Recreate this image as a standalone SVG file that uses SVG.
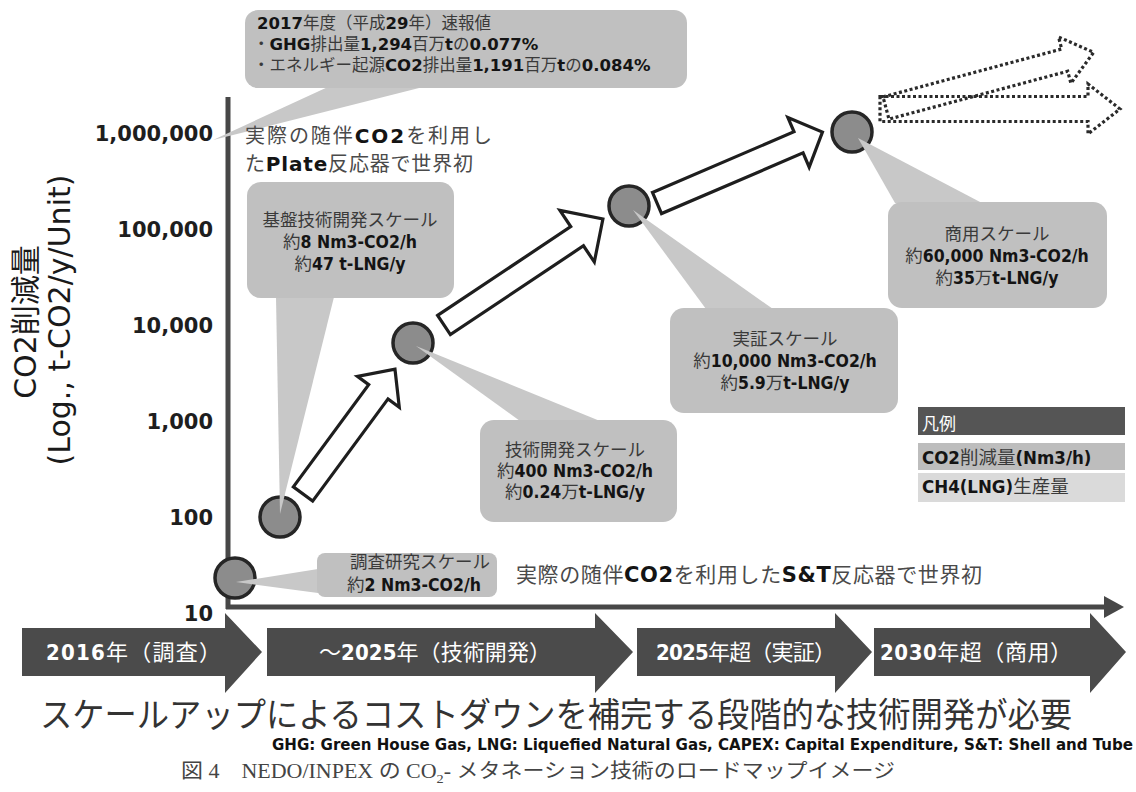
<svg xmlns="http://www.w3.org/2000/svg" width="1136" height="792" viewBox="0 0 1136 792">
<style>
.box{fill:#c0c0c0}
.ptr{fill:#c8c8c8}
.dot{fill:#8c8c8c;stroke:#262626;stroke-width:3.5}
.arr{fill:#fff;stroke:#1e1e1e;stroke-width:3.2;stroke-linejoin:miter}
.darr{fill:none;stroke:#2a2a2a;stroke-width:3.2;stroke-dasharray:3 2.5}
.jp{font-family:"Noto Sans CJK JP","Noto Sans",sans-serif;fill:#3a3a3a}
.b{font-family:"DejaVu Sans Condensed","DejaVu Sans",sans-serif;font-weight:bold;fill:#141414}
.bw{font-family:"DejaVu Sans",sans-serif;font-weight:bold;fill:#141414}
.nt{font-size:17.5px;text-anchor:middle}
.tick{font-family:"DejaVu Sans",sans-serif;font-weight:bold;font-size:21px;fill:#1e1e1e;text-anchor:end}
.chev{fill:#4b4b4b}
.ct{font-family:"Noto Sans CJK JP",sans-serif;font-size:22px;fill:#fff}
.ctb{font-family:"DejaVu Sans Condensed","DejaVu Sans",sans-serif;font-weight:bold;fill:#fff}
.gray{font-family:"Noto Sans CJK JP",sans-serif;fill:#4a4a4a}
</style>

<!-- axes -->
<g id="axes">
  <line x1="228" y1="97" x2="228" y2="609" stroke="#474747" stroke-width="5"/>
  <line x1="226" y1="607" x2="1110" y2="607" stroke="#474747" stroke-width="5"/>
  <polygon points="1104,596 1124,607 1104,618" fill="#474747"/>
  <text class="tick" x="213" y="141">1,000,000</text>
  <text class="tick" x="213" y="237">100,000</text>
  <text class="tick" x="213" y="333">10,000</text>
  <text class="tick" x="213" y="429">1,000</text>
  <text class="tick" x="213" y="525">100</text>
  <text class="tick" x="213" y="621">10</text>
  <text transform="translate(36,322) rotate(-90)" text-anchor="middle" font-size="30" font-family="DejaVu Sans,Noto Sans CJK JP,sans-serif" fill="#1a1a1a">CO2削減量</text>
  <text transform="translate(70,320) rotate(-90)" text-anchor="middle" font-size="30" font-family="DejaVu Sans,sans-serif" fill="#1a1a1a">(Log., t-CO2/y/Unit)</text>
</g>

<!-- top callout -->
<g id="note-2017">
  <polygon class="ptr" points="213,140 330,86 427,86"/>
  <rect class="box" x="245" y="10" width="442" height="78" rx="13"/>
  <text class="jp" x="257" y="29" font-size="16.5"><tspan class="bw">2017</tspan>年度（平成<tspan class="bw">29</tspan>年）速報値</text>
  <text class="jp" x="253" y="50" font-size="16.5">・<tspan class="bw">GHG</tspan>排出量<tspan class="bw">1,294</tspan>百万<tspan class="bw">t</tspan>の<tspan class="bw">0.077%</tspan></text>
  <text class="jp" x="253" y="71" font-size="16.5">・エネルギー起源<tspan class="bw">CO2</tspan>排出量<tspan class="bw">1,191</tspan>百万<tspan class="bw">t</tspan>の<tspan class="bw">0.084%</tspan></text>
</g>

<!-- plain annotations -->
<g id="note-plate">
  <text class="gray" x="245" y="143" font-size="20" textLength="247">実際の随伴<tspan class="bw" fill="#333">CO2</tspan>を利用し</text>
  <text class="gray" x="245" y="171" font-size="20" textLength="228">た<tspan class="bw" fill="#333">Plate</tspan>反応器で世界初</text>
</g>
<g id="note-st">
  <text class="gray" x="516" y="582" font-size="21" textLength="466">実際の随伴<tspan class="bw" fill="#333">CO2</tspan>を利用した<tspan class="bw" fill="#333">S&amp;T</tspan>反応器で世界初</text>
</g>

<!-- connectors -->
<g id="connectors">
  <polygon class="arr" transform="translate(303,494) rotate(-53.6)" points="0,-12 127,-12 127,-26 155,0 127,26 127,12 0,12"/>
  <polygon class="arr" transform="translate(444,325) rotate(-33.7)" points="0,-11.5 160,-11.5 160,-31 191,0 160,31 160,11.5 0,11.5"/>
  <polygon class="arr" transform="translate(657,203) rotate(-23.2)" points="0,-11.5 154,-11.5 154,-27 180,0 154,27 154,11.5 0,11.5"/>
  <polygon class="darr" transform="translate(880,109)" points="0,-12.5 208,-12.5 208,-25 240,0 208,25 208,12.5 0,12.5"/>
  <polygon class="darr" transform="translate(886,108) rotate(-15)" points="0,-11.5 185,-11.5 185,-24 215,0 185,24 185,11.5 0,11.5"/>
</g>

<!-- nodes -->
<g id="node-survey">
  <circle class="dot" cx="235" cy="578" r="20"/>
  <polygon class="ptr" points="236,582 318,569 318,593"/>
  <rect class="box" x="317" y="553" width="180" height="44" rx="8"/>
  <text class="jp nt" x="420" y="568" font-size="17">調査研究スケール</text>
  <text class="jp nt" x="414" y="591" font-size="17">約<tspan class="b">2 Nm3-CO2/h</tspan></text>
</g>

<g id="node-basic">
  <circle class="dot" cx="280" cy="517" r="20"/>
  <polygon class="ptr" points="276,297 334,297 280,514"/>
  <rect class="box" x="247" y="182" width="207" height="116" rx="14"/>
  <text class="jp nt" x="350" y="226">基盤技術開発スケール</text>
  <text class="jp nt" x="350" y="248">約<tspan class="b">8 Nm3-CO2/h</tspan></text>
  <text class="jp nt" x="350" y="270">約<tspan class="b">47 t-LNG/y</tspan></text>
</g>

<g id="node-tech">
  <circle class="dot" cx="413" cy="343" r="20"/>
  <polygon class="ptr" points="416,346 520,421 600,421"/>
  <rect class="box" x="480" y="420" width="197" height="102" rx="14"/>
  <text class="jp nt" x="575" y="456">技術開発スケール</text>
  <text class="jp nt" x="575" y="477">約<tspan class="b">400 Nm3-CO2/h</tspan></text>
  <text class="jp nt" x="575" y="498">約<tspan class="b">0.24</tspan>万<tspan class="b">t-LNG/y</tspan></text>
</g>

<g id="node-demo">
  <circle class="dot" cx="629" cy="206" r="20"/>
  <polygon class="ptr" points="633,210 706,309 773,309"/>
  <rect class="box" x="670" y="308" width="228" height="105" rx="14"/>
  <text class="jp nt" x="785" y="345">実証スケール</text>
  <text class="jp nt" x="785" y="367">約<tspan class="b">10,000 Nm3-CO2/h</tspan></text>
  <text class="jp nt" x="785" y="389">約<tspan class="b">5.9</tspan>万<tspan class="b">t-LNG/y</tspan></text>
</g>

<g id="node-commercial">
  <circle class="dot" cx="852" cy="132" r="20"/>
  <polygon class="ptr" points="858,138 895,203 982,203"/>
  <rect class="box" x="888" y="202" width="219" height="106" rx="14"/>
  <text class="jp nt" x="997" y="240">商用スケール</text>
  <text class="jp nt" x="997" y="262">約<tspan class="b">60,000 Nm3-CO2/h</tspan></text>
  <text class="jp nt" x="997" y="284">約<tspan class="b">35</tspan>万<tspan class="b">t-LNG/y</tspan></text>
</g>

<!-- legend -->
<g id="legend">
  <rect x="918" y="407" width="207" height="28" fill="#555"/>
  <rect x="918" y="443" width="207" height="27" fill="#bdbdbd"/>
  <rect x="918" y="473" width="207" height="29" fill="#dadada"/>
  <text x="922" y="430" font-family="Noto Sans CJK JP,sans-serif" font-size="17" fill="#fff">凡例</text>
  <text class="jp" x="922" y="464" font-size="18.5" fill="#333"><tspan class="b">CO2</tspan>削減量<tspan class="b">(Nm3/h)</tspan></text>
  <text class="jp" x="922" y="493" font-size="18.5" fill="#333"><tspan class="b">CH4(LNG)</tspan>生産量</text>
</g>

<!-- timeline -->
<g id="timeline">
  <polygon class="chev" points="22,628 225,628 225,613 262,652 225,693 225,676 22,676"/>
  <polygon class="chev" points="267,628 595,628 595,613 633,652 595,693 595,676 267,676"/>
  <polygon class="chev" points="637,628 835,628 835,613 872,652 835,693 835,676 637,676"/>
  <polygon class="chev" points="874,628 1090,628 1090,613 1126,652 1090,693 1090,676 874,676"/>
  <text class="ct" x="46" y="660" textLength="175"><tspan class="ctb">2016</tspan>年（調査）</text>
  <text class="ct" x="319" y="660" textLength="232">～<tspan class="ctb">2025</tspan>年（技術開発）</text>
  <text class="ct" x="656" y="660" textLength="180"><tspan class="ctb">2025</tspan>年超（実証）</text>
  <text class="ct" x="880" y="660" textLength="192"><tspan class="ctb">2030</tspan>年超（商用）</text>
</g>

<!-- bottom texts -->
<g id="footer">
  <text x="40" y="727" font-family="Noto Sans CJK JP,sans-serif" font-size="34" fill="#333" textLength="1032" lengthAdjust="spacingAndGlyphs">スケールアップによるコストダウンを補完する段階的な技術開発が必要</text>
  <text x="272" y="750" font-family="DejaVu Sans Condensed,DejaVu Sans,sans-serif" font-weight="bold" font-size="16" fill="#111" textLength="861" lengthAdjust="spacingAndGlyphs">GHG: Green House Gas, LNG: Liquefied Natural Gas, CAPEX: Capital Expenditure, S&amp;T: Shell and Tube</text>
  <text x="181" y="778" font-family="Liberation Serif,Noto Sans CJK JP,serif" font-size="20" fill="#444" textLength="714" lengthAdjust="spacingAndGlyphs">図 4　NEDO/INPEX の CO<tspan font-size="13" dy="5">2</tspan><tspan dy="-5">- メタネーション技術のロードマップイメージ</tspan></text>
</g>
</svg>
